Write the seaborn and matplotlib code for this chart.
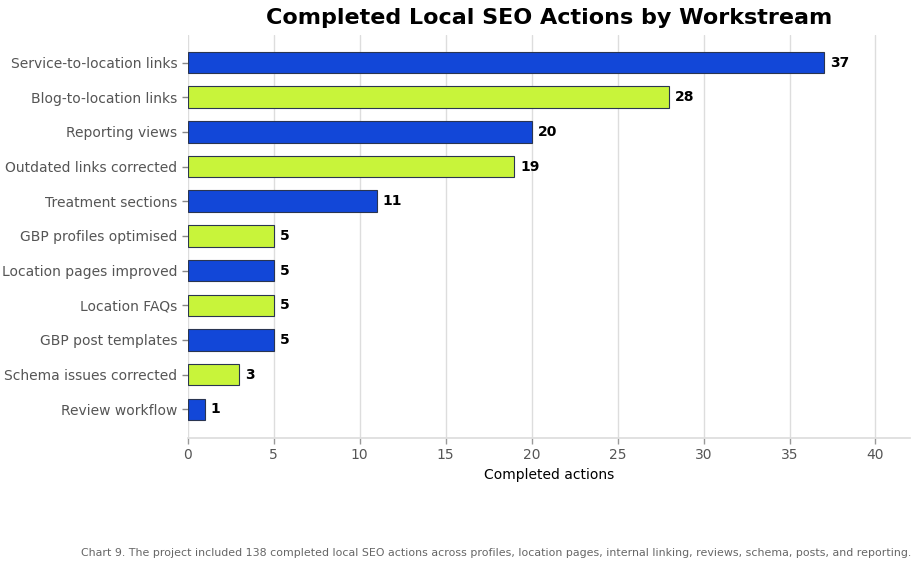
import numpy as np
import pandas as pd
import seaborn as sns
import matplotlib.pyplot as plt

sns.set_theme(style="whitegrid")
plt.rcParams['font.family'] = ['DejaVu Sans']

# Dane
workstreams = [
    "Service-to-location links", "Blog-to-location links", "Reporting views",
    "Outdated links corrected", "Treatment sections", "GBP profiles optimised",
    "Location pages improved", "Location FAQs", "GBP post templates",
    "Schema issues corrected", "Review workflow",
]
actions = [37, 28, 20, 19, 11, 5, 5, 5, 5, 3, 1]
bar_colors = ["#1247d8", "#c8f43a"] * 6
bar_colors = bar_colors[:len(workstreams)]

df = pd.DataFrame({"workstream": workstreams, "actions": actions})

fig = plt.figure(figsize=(9.2, 5.7), dpi=100)
ax = fig.add_axes([0.204, 0.232, 0.785, 0.707])

sns.barplot(data=df, x="actions", y="workstream", hue="workstream",
            palette=bar_colors, legend=False, width=0.62, saturation=1,
            edgecolor="#2a3550", linewidth=0.8, ax=ax)

for i, v in enumerate(actions):
    ax.text(v + 0.35, i, str(v), va="center", ha="left",
            fontsize=10, fontweight="bold", color="black")

ax.set_xlim(0, 42)
ax.set_ylim(len(workstreams) - 1 + 0.82, -0.8)
ax.set_xticks(range(0, 41, 5))
ax.set_xlabel("Completed actions", fontsize=10, color="black")
ax.set_ylabel("")
ax.grid(axis="y", visible=False)
ax.grid(axis="x", color="#dddddd", linewidth=1)
for s in ["top", "right", "left"]:
    ax.spines[s].set_visible(False)
ax.spines["bottom"].set_color("#dddddd")
ax.tick_params(axis="both", labelsize=10, length=4, width=1,
               left=True, bottom=True)
ax.tick_params(axis="y", colors="#888888", labelcolor="#555555")
ax.tick_params(axis="x", colors="#999999", labelcolor="#555555")

fig.text(0.597, 0.968, "Completed Local SEO Actions by Workstream",
         ha="center", va="center", fontsize=16, fontweight="bold", color="black")
fig.text(0.99, 0.03,
         "Chart 9. The project included 138 completed local SEO actions across profiles, "
         "location pages, internal linking, reviews, schema, posts, and reporting.",
         ha="right", va="center", fontsize=7.9, color="#666666")

fig.savefig("out.png", dpi=100)
